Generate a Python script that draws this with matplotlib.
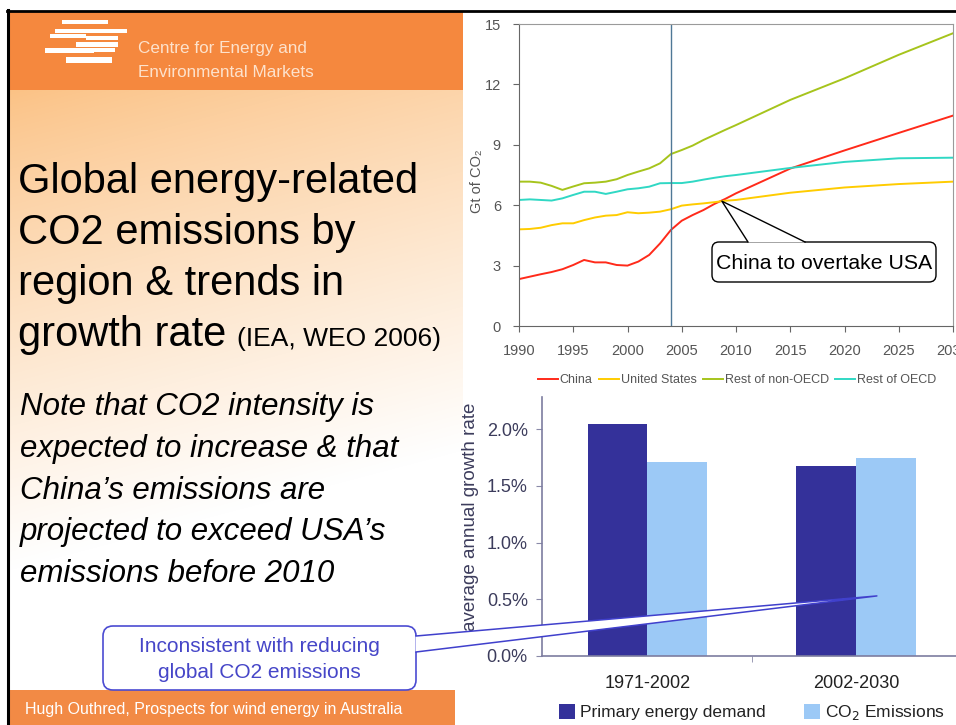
import numpy as np
import matplotlib
matplotlib.use("Agg")
import matplotlib.pyplot as plt
from matplotlib.patches import Rectangle, FancyBboxPatch, Polygon
from matplotlib.lines import Line2D

# --- data --------------------------------------------------------------------
years = [1990, 1991, 1992, 1993, 1994, 1995, 1996, 1997, 1998, 1999, 2000,
         2001, 2002, 2003, 2004, 2005, 2006, 2007, 2008, 2009, 2010,
         2015, 2020, 2025, 2030]
china = [2.33, 2.45, 2.57, 2.68, 2.82, 3.03, 3.28, 3.16, 3.16, 3.03, 3.00,
         3.20, 3.53, 4.10, 4.77, 5.23, 5.51, 5.76, 6.06, 6.31, 6.59,
         7.82, 8.72, 9.59, 10.45]
united_states = [4.80, 4.82, 4.88, 5.01, 5.10, 5.10, 5.26, 5.39, 5.48, 5.51, 5.65,
                 5.60, 5.63, 5.68, 5.80, 5.98, 6.04, 6.09, 6.15, 6.22, 6.26,
                 6.62, 6.88, 7.05, 7.17]
rest_non_oecd = [7.17, 7.17, 7.12, 6.96, 6.76, 6.93, 7.09, 7.12, 7.17, 7.29, 7.50,
                 7.67, 7.83, 8.08, 8.54, 8.74, 8.96, 9.24, 9.49, 9.74, 9.98,
                 11.23, 12.30, 13.47, 14.54]
rest_oecd = [6.26, 6.29, 6.26, 6.23, 6.34, 6.51, 6.67, 6.67, 6.56, 6.67, 6.79,
             6.84, 6.92, 7.09, 7.10, 7.10, 7.17, 7.27, 7.36, 7.44, 7.50,
             7.85, 8.15, 8.33, 8.36]
series_names = ["China", "United States", "Rest of non-OECD", "Rest of OECD"]
base_year = 2004
overtake = (2008.7, 6.2)

periods = ["1971-2002", "2002-2030"]
energy_growth = [2.05, 1.68]   # % per year
co2_growth = [1.71, 1.75]      # % per year
growth_ticks = [0.0, 0.5, 1.0, 1.5, 2.0]
inconsistent_pt = (1.10, 0.53)

W, H = 956, 725
ORANGE = "#f5883e"
ARIAL = ["Liberation Sans", "DejaVu Sans"]


def rect(l, t, r, b):
    return [l / W, 1 - b / H, (r - l) / W, (b - t) / H]


fig = plt.figure(figsize=(W / 100, H / 100), dpi=100)

# --- slide background (pixel coordinates) ------------------------------------
bg = fig.add_axes([0, 0, 1, 1], zorder=0)
bg.set_xlim(0, W)
bg.set_ylim(H, 0)
bg.axis("off")

img = np.ones((H, W, 3))
yy, xx = np.mgrid[0:H, 0:W]
t = np.clip((yy - 90) / 480 + 0.25 * (xx - 9) / 454, 0, 1) ** 0.85
peach = np.array([0.985, 0.76, 0.52])
grad = peach * (1 - t[..., None]) + np.ones(3) * t[..., None]
mask = (xx >= 9) & (xx < 463) & (yy >= 90) & (yy < 690)
img[mask] = grad[mask]
bg.imshow(img, extent=(0, W, H, 0), aspect="auto", interpolation="bilinear")

bg.add_patch(Rectangle((9, 11), 454, 79, color=ORANGE, lw=0))
bg.add_patch(Rectangle((9, 690), 446, 35, color="#f28a45", lw=0))
bg.plot([7, W], [10.5, 10.5], color="black", lw=2)
bg.plot([8, 8], [10, H], color="black", lw=2.2)

# logo stripes
for l, t0, r, b in [(62, 20, 108, 24), (55, 29, 127, 33), (50, 34, 86, 38),
                    (86, 36, 118, 40), (76, 42, 118, 47), (45, 48, 94, 53),
                    (94, 48, 115, 52), (66, 57, 112, 63)]:
    bg.add_patch(Rectangle((l, t0), r - l, b - t0, color="white", lw=0))
bg.text(138, 53, "Centre for Energy and", fontsize=12.3, color="#fde2cc", family=ARIAL)
bg.text(138, 77, "Environmental Markets", fontsize=12.3, color="#fde2cc", family=ARIAL)

title_lines = ["Global energy-related", "CO2 emissions by", "region & trends in"]
for i, line in enumerate(title_lines):
    bg.text(18, 193 + 51 * i, line, fontsize=30, family=ARIAL, color="black")
g = bg.text(18, 346, "growth rate", fontsize=30, family=ARIAL, color="black")
fig.canvas.draw()
ext = g.get_window_extent()
bg.text(18 + ext.width + 11, 346, "(IEA, WEO 2006)", fontsize=19, family=ARIAL)

note_lines = ["Note that CO2 intensity is", "expected to increase & that",
              "China\u2019s emissions are", "projected to exceed USA\u2019s",
              "emissions before 2010"]
for i, line in enumerate(note_lines):
    bg.text(20, 415 + 41.8 * i, line, fontsize=22.5, style="italic", family=ARIAL)

bg.text(25, 714, "Hugh Outhred, Prospects for wind energy in Australia",
        fontsize=11.5, color="white", family=ARIAL)

# --- line chart ---------------------------------------------------------------
ax1 = fig.add_axes(rect(519, 24, 953, 326), zorder=2)
colors = ["#ff2a1a", "#ffcc00", "#a6c41c", "#30d8c4"]
for vals, name, c in zip([china, united_states, rest_non_oecd, rest_oecd],
                         series_names, colors):
    ax1.plot(years, vals, color=c, lw=1.4, label=name)
ax1.axvline(base_year, color="#4f7896", lw=1)
ax1.set_xlim(1990, 2030)
ax1.set_ylim(0, 15)
ax1.set_xticks(range(1990, 2031, 5))
ax1.set_yticks(range(0, 16, 3))
for s in ["left", "bottom"]:
    ax1.spines[s].set_color("#666666")
for s in ["top", "right"]:
    ax1.spines[s].set_color("#9a9a9a")
ax1.tick_params(colors="#666666", labelcolor="#555555", length=4, pad=9,
                labelsize=10.5)
for lab in ax1.get_xticklabels() + ax1.get_yticklabels():
    lab.set_family(ARIAL)
ax1.set_ylabel("Gt of CO\u2082", fontsize=10.5, color="#555555", family=ARIAL)
ax1.yaxis.set_label_coords(-0.08, 0.48)
fig.legend(*ax1.get_legend_handles_labels(), loc="center",
           bbox_to_anchor=(737 / W, 1 - 380 / H), ncol=4, frameon=False,
           handlelength=1.6, handletextpad=0.15, columnspacing=0.5,
           prop={"family": ARIAL, "size": 9}, labelcolor="#555555")

# --- bar chart ----------------------------------------------------------------
ymax = (656 - 397) / 113.35
ax2 = fig.add_axes(rect(541.7, 397, 956, 656), zorder=2)
x = np.arange(len(periods))
bw = 0.286
ax2.bar(x - bw / 2, energy_growth, bw, color="#34319a", label="Primary energy demand")
ax2.bar(x + bw / 2, co2_growth, bw, color="#9cc9f6", label="CO$_2$ Emissions")
ax2.set_xlim(-0.506, 1.479)
ax2.set_ylim(0, ymax)
ax2.set_yticks(growth_ticks)
ax2.set_yticklabels([f"{v:.1f}%" for v in growth_ticks])
ax2.set_xticks(x)
ax2.set_xticklabels(periods)
ax2.set_xticks([0.5], minor=True)
ax2.tick_params(axis="x", which="major", length=0, pad=14, labelsize=13,
                labelcolor="#222222")
ax2.tick_params(axis="x", which="minor", length=4, color="#8a8aa8")
ax2.tick_params(axis="y", length=4, color="#8a8aa8", labelsize=13,
                labelcolor="#3c3c5c", pad=6)
for lab in ax2.get_xticklabels() + ax2.get_yticklabels():
    lab.set_family(ARIAL)
for s in ["top", "right"]:
    ax2.spines[s].set_visible(False)
for s in ["left", "bottom"]:
    ax2.spines[s].set_color("#7d7da0")
    ax2.spines[s].set_linewidth(1.2)
ax2.set_ylabel("average annual growth rate", fontsize=13.5, color="#3c3c5c",
               family=ARIAL)
ax2.yaxis.set_label_coords(-0.152, 0.537)
fig.legend(*ax2.get_legend_handles_labels(), loc="center",
           bbox_to_anchor=(752 / W, 1 - 713 / H), ncol=2, frameon=False,
           handlelength=0.9, handleheight=0.9, handletextpad=0.3,
           columnspacing=2.2, prop={"family": ARIAL, "size": 12.5},
           labelcolor="#222222")

# --- callouts (overlay in pixel coordinates) ----------------------------------
ov = fig.add_axes([0, 0, 1, 1], zorder=10)
ov.set_xlim(0, W)
ov.set_ylim(H, 0)
ov.axis("off")
ov.patch.set_alpha(0)


def to_px(ax, pt):
    return ov.transData.inverted().transform(ax.transData.transform(pt))


# China to overtake USA
tx, ty = to_px(ax1, overtake)
ov.add_patch(FancyBboxPatch((712, 242), 224, 40, boxstyle="round,pad=0,rounding_size=7",
                            fc="white", ec="black", lw=1))
ov.add_patch(Polygon([(748, 242.5), (tx, ty), (805, 242.5)], closed=True,
                     fc="white", ec="none"))
ov.add_line(Line2D([748, tx, 805], [242, ty, 242], color="black", lw=1))
ov.text(824, 263, "China to overtake USA", fontsize=15.3, family=ARIAL,
        ha="center", va="center")

# Inconsistent with reducing global CO2 emissions
px, py = to_px(ax2, inconsistent_pt)
ov.add_patch(FancyBboxPatch((103, 626), 313, 64, boxstyle="round,pad=0,rounding_size=10",
                            fc="white", ec="#4b4bd2", lw=1.2))
ov.add_patch(Polygon([(415.5, 636), (px, py), (415.5, 652)], closed=True,
                     fc="white", ec="none"))
ov.add_line(Line2D([416, px, 416], [636, py, 652], color="#4040cc", lw=1.1))
ov.text(259, 647, "Inconsistent with reducing", fontsize=15, family=ARIAL,
        color="#4646c8", ha="center", va="center")
ov.text(259, 672, "global CO2 emissions", fontsize=15, family=ARIAL,
        color="#4646c8", ha="center", va="center")

fig.savefig("out.png", dpi=100)
